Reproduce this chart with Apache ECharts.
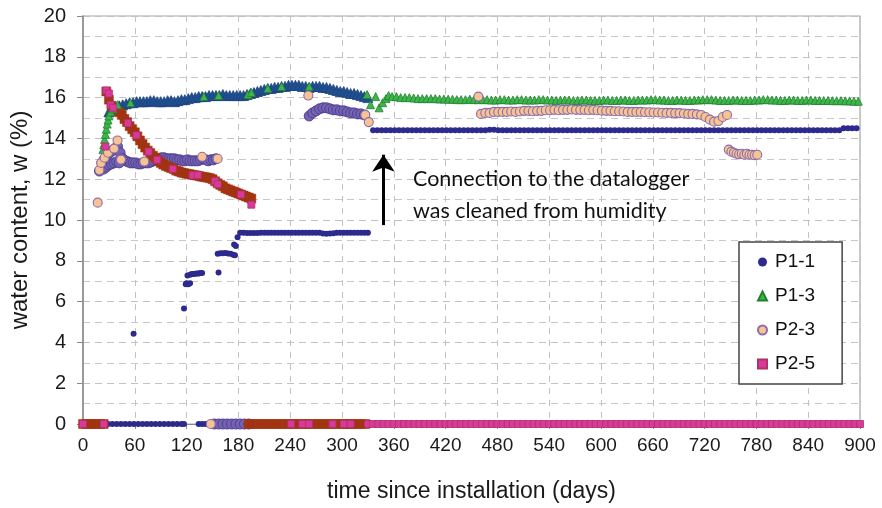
<!DOCTYPE html>
<html><head><meta charset="utf-8">
<script src="https://cdn.jsdelivr.net/npm/echarts@6/dist/echarts.min.js"></script>
<style>html,body{margin:0;padding:0;background:#fff}#c{width:882px;height:508px}</style>
</head><body><div id="c"></div>
<script>
// ---------------- data (days, water content %) ----------------
const xMin = 0, xMax = 900, xStep = 60;
const yMin = 0, yMax = 20, yStep = 2;
const seriesNames = ['P1-1', 'P1-3', 'P2-3', 'P2-5'];

// P1-1
const p11Points = [[58.6,4.43],[117,5.66],[119,6.85],[120,6.9],[122,6.85],[124,6.9],[121,7.28],[124,7.32],[126,7.35],[128,7.35],[130,7.36],[132,7.38],[134,7.38],[136,7.4],[138,7.4],[157,7.43],[156,8.35],[159,8.37],[162,8.37],[165,8.38],[168,8.36],[171,8.35],[174,8.3],[176,8.27],[177,8.72],[175,8.8],[179,9.15],[117,0]];
const p11Flat9Start = 182, p11Flat9Step = 4;
const p11Flat9 = [9.37,9.37,9.36,9.36,9.36,9.36,9.37,9.37,9.37,9.37,
  9.37,9.37,9.37,9.37,9.37,9.37,9.37,9.37,9.37,9.37,
  9.37,9.37,9.37,9.37,9.34,9.33,9.34,9.35,9.37,9.37,
  9.37,9.37,9.37,9.37,9.37,9.37,9.37,9.37];
const p11Flat14Start = 336, p11Flat14Step = 5;
const p11Flat14 = [14.4,14.4,14.4,14.4,14.4,14.4,14.4,14.4,14.4,14.4,
  14.4,14.4,14.4,14.4,14.4,14.4,14.4,14.4,14.4,14.4,
  14.4,14.4,14.4,14.4,14.4,14.4,14.4,14.42,14.42,14.4,
  14.4,14.4,14.4,14.4,14.4,14.4,14.4,14.4,14.4,14.4,
  14.4,14.4,14.4,14.4,14.4,14.4,14.4,14.4,14.4,14.4,
  14.4,14.4,14.4,14.4,14.4,14.4,14.4,14.4,14.4,14.4,
  14.4,14.4,14.4,14.4,14.4,14.4,14.4,14.4,14.4,14.4,
  14.4,14.4,14.4,14.4,14.4,14.4,14.4,14.4,14.4,14.4,
  14.4,14.4,14.4,14.4,14.4,14.4,14.4,14.4,14.4,14.4,
  14.4,14.4,14.4,14.4,14.4,14.4,14.4,14.4,14.4,14.4,
  14.4,14.4,14.4,14.4,14.4,14.4,14.4,14.4,14.4,14.5,
  14.5,14.5,14.5];
const p11ZeroStart = 29, p11ZeroStep = 5;
const p11Zero = [0,0,0,0,0,0,0,0,0,0,0,0,0,0,0,0,0,0];
const p11Zero2Start = 134, p11Zero2Step = 4;
const p11Zero2 = [0,0,0,0];

// P1-3
const p13Points = [[23,13.45],[24,13.7],[25,13.95],[26,14.2],[27,14.45],[28,14.7],[29,14.9],[30,15.1],[32,15.3],[35,15.45],[40,15.65],[55,15.75],[140,16.05],[157,16.1],[191,16.15],[195,16.25],[214,16.45],[230,16.55],[262,16.55],[329,16.15],[333,15.65],[339,16.05],[343,15.5],[347,15.75],[351,15.95],[354,16.1]];
const p13LateStart = 358, p13LateStep = 5;
const p13Late = [16.05,16.05,16.0,16.0,16.0,15.98,15.95,15.95,15.95,15.95,
  15.95,15.93,15.93,15.92,15.92,15.9,15.9,15.9,15.92,15.9,
  15.9,15.9,15.9,15.88,15.88,15.9,15.9,15.88,15.88,15.9,
  15.9,15.88,15.88,15.88,15.9,15.9,15.88,15.88,15.86,15.88,
  15.88,15.88,15.86,15.86,15.88,15.88,15.86,15.86,15.86,15.88,
  15.88,15.86,15.86,15.88,15.88,15.86,15.86,15.88,15.88,15.88,
  15.9,15.9,15.88,15.88,15.86,15.86,15.88,15.88,15.86,15.86,
  15.88,15.88,15.9,15.9,15.9,15.88,15.86,15.86,15.86,15.88,
  15.88,15.86,15.86,15.86,15.88,15.88,15.9,15.9,15.88,15.88,
  15.86,15.86,15.88,15.88,15.86,15.86,15.88,15.88,15.86,15.86,
  15.86,15.86,15.85,15.85,15.85,15.84,15.84,15.82,15.82];
const p13EarlyStart = 30, p13EarlyStep = 4;
const p13Early = [15.3,15.45,15.55,15.6,15.65,15.7,15.75,15.75,15.8,15.8,
  15.8,15.8,15.85,15.85,15.8,15.8,15.8,15.85,15.85,15.8,
  15.85,15.9,15.9,15.95,16.0,16.0,16.05,16.05,16.05,16.1,
  16.1,16.1,16.1,16.15,16.1,16.1,16.1,16.1,16.1,16.1,
  16.15,16.2,16.25,16.3,16.35,16.4,16.45,16.45,16.5,16.5,
  16.55,16.55,16.6,16.6,16.6,16.6,16.55,16.55,16.5,16.55,
  16.55,16.55,16.5,16.5,16.45,16.4,16.35,16.3,16.3,16.25,
  16.2,16.2,16.15,16.1,16.05,16.0];

// P2-3
const p23Points = [[17,10.85],[19,12.45],[21,12.8],[25,13.05],[29,13.3],[36,13.5],[40,13.9],[44,12.96],[71,12.87],[138,13.1],[148,0],[156,13.0],[261,16.1],[327,15.15],[331,14.8],[458,16.05]];
const p23MidStart = 461, p23MidStep = 5;
const p23Mid = [15.2,15.25,15.25,15.3,15.3,15.3,15.3,15.32,15.3,15.32,
  15.35,15.35,15.33,15.35,15.35,15.38,15.38,15.4,15.38,15.4,
  15.4,15.42,15.4,15.4,15.4,15.38,15.4,15.38,15.36,15.35,
  15.35,15.33,15.33,15.32,15.3,15.3,15.3,15.3,15.28,15.28,
  15.27,15.27,15.26,15.25,15.25,15.24,15.24,15.22,15.2,15.2,
  15.18,15.15,15.05,14.92,14.82,14.85,15.05,15.15];
const p23LowStart = 748, p23LowStep = 3;
const p23Low = [13.45,13.35,13.3,13.25,13.22,13.25,13.2,13.25,13.2,13.2,13.18,13.2];
const p23EarlyStart = 19, p23EarlyStep = 3;
const p23Early = [12.4,12.8,13.0,13.2,13.3,13.4,13.5,13.6,13.3,13.0,
  12.9,12.85,12.8,12.8,12.8,12.75,12.75,12.8,12.8,12.8,
  12.85,12.9,12.95,13.0,13.05,13.05,13.0,13.0,13.0,13.0,
  12.95,12.95,12.9,12.9,12.95,12.9,12.9,12.9,12.9,12.95,
  13.0,12.95,12.9,12.95,12.95,13.0];
const p23LowerStart = 24, p23LowerStep = 3;
const p23Lower = [12.5,12.6,12.7,12.75,12.8,12.85,12.8];
const p23PlateauStart = 262, p23PlateauStep = 4;
const p23Plateau = [15.1,15.25,15.35,15.45,15.5,15.5,15.45,15.4,15.4,15.35,15.35,15.3,15.25,15.25,15.2,15.2,15.15];
const p23ZeroStart = 152, p23ZeroStep = 5;
const p23Zero = [0,0,0,0,0,0,0,0,0];

// P2-5
const p25Points = [[0,0],[24,0],[26,13.6],[27,16.35],[30,16.2],[32,15.65],[35,15.5],[52,14.75],[62,14.15],[76,13.35],[86,12.95],[104,12.5],[127,12.2],[133,12.2],[153,11.9],[156,11.75],[183,11.25],[195,10.75],[241,0],[254,0],[262,0],[289,0],[302,0],[310,0]];
const p25ZeroLateStart = 330, p25ZeroLateStep = 6;
const p25ZeroLate = [0,0,0,0,0,0,0,0,0,0,0,0,
  0,0,0,0,0,0,0,0,0,0,0,0,
  0,0,0,0,0,0,0,0,0,0,0,0,
  0,0,0,0,0,0,0,0,0,0,0,0,
  0,0,0,0,0,0,0,0,0,0,0,0,
  0,0,0,0,0,0,0,0,0,0,0,0,
  0,0,0,0,0,0,0,0,0,0,0,0,
  0,0,0,0,0,0,0,0,0,0,0,0];
const p25CurveStart = 27, p25CurveStep = 3;
const p25Curve = [16.3,15.9,15.6,15.45,15.35,15.28,15.15,14.95,14.8,14.6,
  14.45,14.3,14.1,13.9,13.72,13.55,13.4,13.28,13.15,13.05,
  12.92,12.8,12.72,12.65,12.6,12.55,12.5,12.42,12.38,12.33,
  12.3,12.27,12.25,12.22,12.2,12.18,12.15,12.12,12.1,12.08,
  12.05,12.0,11.9,11.8,11.72,11.65,11.55,11.5,11.45,11.4,
  11.35,11.3,11.25,11.2,11.15,11.1,11.05];
const p25ZeroEarlyStart = 0, p25ZeroEarlyStep = 4;
const p25ZeroEarly = [0,0,0,0,0,0,0];
const p25ZeroMidStart = 192, p25ZeroMidStep = 5;
const p25ZeroMid = [0,0,0,0,0,0,0,0,0,0,0,0,0,0,0,0,0,0,0,0,0,0,0,0,0,0,0,0];

// annotation arrow (data coords) and text
const arrowDay = 348, arrowFrom = 9.75, arrowTo = 13.2;
const noteLines = ['Connection to the datalogger', 'was cleaned from humidity'];

// ---------------- chart ----------------
const band = (start, step, vals) => vals.map((v, i) => [start + i * step, v]);
const FONT = "'Liberation Sans', Arial, sans-serif";
const NOTE_FONT = "21.5px Lato, 'Open Sans', sans-serif";

const chart = echarts.init(document.getElementById('c'));
chart.setOption({
  animation: false,
  grid: { left: 82, right: 22, top: 16, bottom: 83, show: true, borderColor: '#a8a8a8', borderWidth: 1.2 },
  xAxis: {
    type: 'value', min: xMin, max: xMax, interval: xStep,
    axisLine: { onZero: false, lineStyle: { color: '#8a8a8a', width: 1.2 } },
    axisTick: { show: true, length: 5, lineStyle: { color: '#8a8a8a' } },
    axisLabel: { fontSize: 19, color: '#1a1a1a', fontFamily: FONT, margin: 12 },
    splitLine: { show: true, lineStyle: { type: [6, 6], color: '#c2c2c2', width: 1 } },
    name: 'time since installation (days)', nameLocation: 'middle', nameGap: 56,
    nameTextStyle: { fontSize: 23, color: '#1a1a1a', fontFamily: FONT }
  },
  yAxis: {
    type: 'value', min: yMin, max: yMax, interval: yStep,
    axisLine: { show: true, lineStyle: { color: '#8a8a8a', width: 1.5 } },
    axisTick: { show: true, length: 6, lineStyle: { color: '#8a8a8a' } },
    minorTick: { show: false, splitNumber: 2 },
    minorSplitLine: { show: true, lineStyle: { type: [7, 5], color: '#c8c8c8', width: 1 } },
    splitLine: { show: true, lineStyle: { type: [7, 5], color: '#c2c2c2', width: 1 } },
    axisLabel: { fontSize: 20, color: '#1a1a1a', fontFamily: FONT, margin: 17 },
    name: 'water content, w (%)', nameLocation: 'middle', nameGap: 51,
    nameTextStyle: { fontSize: 24, color: '#1a1a1a', fontFamily: FONT }
  },
  legend: {
    data: seriesNames, orient: 'vertical', left: 739, top: 242,
    padding: [10, 27, 10, 18], itemGap: 14, itemWidth: 9, itemHeight: 9,
    textStyle: { fontSize: 19, lineHeight: 20, color: '#111', fontFamily: FONT, padding: [0, 0, 0, 3] },
    borderColor: '#444', borderWidth: 1.5, backgroundColor: '#fff'
  },
  graphic: [
    { type: 'text', left: 413, top: 168, z: 100, style: { text: noteLines[0], font: NOTE_FONT, fill: '#111' } },
    { type: 'text', left: 413, top: 200, z: 100, style: { text: noteLines[1], font: NOTE_FONT, fill: '#111' } }
  ],
  series: [
    { name: 'P1-1', type: 'scatter', symbol: 'circle', symbolSize: 6, z: 3,
      itemStyle: { color: '#2d2a8e', opacity: 1 },
      data: p11Points.concat(band(p11Flat9Start, p11Flat9Step, p11Flat9), band(p11Flat14Start, p11Flat14Step, p11Flat14), band(p11ZeroStart, p11ZeroStep, p11Zero), band(p11Zero2Start, p11Zero2Step, p11Zero2)),
      markLine: { silent: true, symbol: ['none', 'arrow'], symbolSize: 17, label: { show: false },
        lineStyle: { color: '#000', width: 3, type: 'solid' },
        data: [[{ coord: [arrowDay, arrowFrom] }, { coord: [arrowDay, arrowTo] }]] } },
    { name: 'P1-3', type: 'scatter', symbol: 'triangle', symbolSize: 8, z: 4,
      itemStyle: { color: '#3cb54a', borderColor: '#23802e', borderWidth: 0.8, opacity: 1 },
      data: p13Points.concat(band(p13LateStart, p13LateStep, p13Late)) },
    { name: 'P2-3', type: 'scatter', symbol: 'circle', symbolSize: 9, z: 5,
      itemStyle: { color: '#f7c38f', borderColor: '#8a6cb3', borderWidth: 1.1, opacity: 1 },
      data: p23Points.concat(band(p23MidStart, p23MidStep, p23Mid), band(p23LowStart, p23LowStep, p23Low)) },
    { name: 'P2-5', type: 'scatter', symbol: 'rect', symbolSize: 7, z: 5,
      itemStyle: { color: '#d8399a', borderColor: '#b03068', borderWidth: 0.8, opacity: 1 },
      data: p25Points.concat(band(p25ZeroLateStart, p25ZeroLateStep, p25ZeroLate)) },
    { name: 'P1-3', type: 'scatter', symbol: 'triangle', symbolSize: 10, z: 2,
      itemStyle: { color: '#1f4f8f', borderColor: '#1a4280', borderWidth: 0.8, opacity: 1 },
      data: band(p13EarlyStart, p13EarlyStep, p13Early) },
    { name: 'P2-3', type: 'scatter', symbol: 'circle', symbolSize: 10, z: 2,
      itemStyle: { color: '#7563b0', borderColor: '#4f3f94', borderWidth: 1, opacity: 1 },
      data: band(p23EarlyStart, p23EarlyStep, p23Early).concat(band(p23LowerStart, p23LowerStep, p23Lower), band(p23PlateauStart, p23PlateauStep, p23Plateau), band(p23ZeroStart, p23ZeroStep, p23Zero)) },
    { name: 'P2-5', type: 'scatter', symbol: 'rect', symbolSize: 9, z: 3,
      itemStyle: { color: '#a23412', borderColor: '#a23412', borderWidth: 0.5, opacity: 1 },
      data: band(p25CurveStart, p25CurveStep, p25Curve).concat(band(p25ZeroEarlyStart, p25ZeroEarlyStep, p25ZeroEarly), band(p25ZeroMidStart, p25ZeroMidStep, p25ZeroMid)) }
  ]
});
</script>
</body></html>
